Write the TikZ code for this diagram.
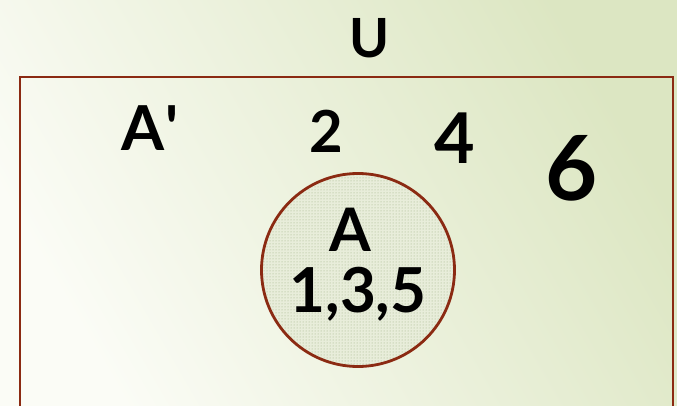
\documentclass[tikz,border=0pt]{standalone}
\usepackage{fontspec}
\setmainfont{Lato}[BoldFont=Lato Bold]
\usetikzlibrary{patterns}
\definecolor{bgL}{HTML}{FBFCF6}
\definecolor{bgR}{HTML}{DCE6C2}
\definecolor{frame}{HTML}{8B2A12}
\definecolor{circfill}{HTML}{E8EDDA}
\definecolor{dotcol}{HTML}{9DAF80}
\tikzset{
  hand/.style={font=\fontsize{#1}{#1}\selectfont\bfseries, text=black, inner sep=0pt},
  setframe/.style={draw=frame, line width=2.8pt},
}
\begin{document}
\begin{tikzpicture}[x=1pt,y=-1pt]
\useasboundingbox (0,0) rectangle (677,406);
\shade[shading=axis, top color=bgR, bottom color=bgL, shading angle=-60] (0,0) rectangle (677,406);
\draw[setframe] (20,77) -- (673,77) -- (673,420) -- (20,420) -- cycle;
\node[circle, minimum size=193pt, fill=circfill, inner sep=0pt] (A) at (358,270) {};
\fill[pattern=dots, pattern color=dotcol] (A.center) circle (95.5);
\draw[frame, line width=2.8pt] (A.center) circle (96.5);
\node[hand=54] (U) at (370,38) {U};
\node[hand=62] (Ac) at (150,128) {A\textquotesingle};
\node[hand=58] (two) at (326,131) {2};
\node[hand=70] (four) at (455,138) {4};
\node[hand=90] (six) at (572,168) {6};
\node[hand=60] (Alab) at (350,230) {A};
\node[hand=62] (els) at (358,294) {1,3,5};
\end{tikzpicture}
\end{document}
